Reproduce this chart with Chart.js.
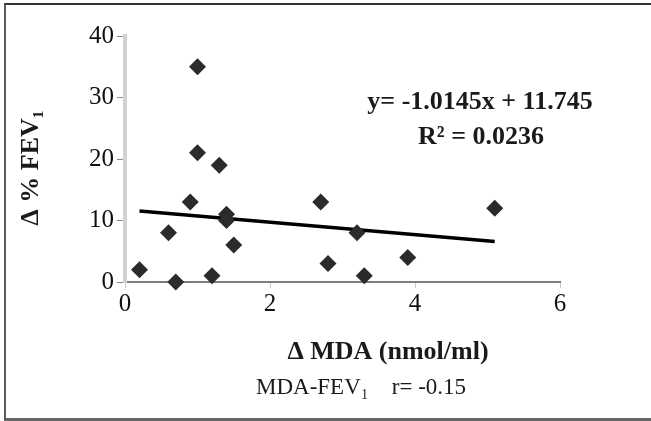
<!DOCTYPE html>
<html>
<head>
<meta charset="utf-8">
<script src="https://cdn.jsdelivr.net/npm/chart.js@4.4.1/dist/chart.umd.min.js"></script>
<style>
  html, body { margin: 0; padding: 0; background: #fff; }
  #wrap { position: relative; width: 651px; height: 421px; }
  #frame {
    position: absolute; left: 4px; top: 3px; width: 647px; height: 413px;
    border-left: 2px solid #5e5e5e; border-top: 2px solid #333; border-bottom: 3px solid #666;
  }
</style>
</head>
<body>
<div id="wrap">
  <canvas id="chart" width="651" height="421"></canvas>
  <div id="frame"></div>
</div>
<script>
// Δ MDA (nmol/ml) vs Δ % FEV1
const mdaValues = [0.2, 0.7, 0.6, 0.9, 1.0, 1.0, 1.3, 1.2, 1.4, 1.4, 1.5, 2.7, 2.8, 3.2, 3.3, 3.9, 5.1];
const fevValues = [2, 0, 8, 13, 35, 21, 19, 1, 11, 10, 6, 13, 3, 8, 1, 4, 12];

// trend line end points
const trendX = [0.2, 5.1];
const trendY = [11.55, 6.6];

const xTicks = [0, 2, 4, 6];
const yTicks = [0, 10, 20, 30, 40];

const equationText = 'y= -1.0145x + 11.745';
const r2Text = 'R² = 0.0236';
const xTitle = 'Δ MDA (nmol/ml)';
const yTitle = 'Δ % FEV₁';
const footerText = 'MDA-FEV₁    r= -0.15';

const serif = "'Liberation Serif', 'DejaVu Serif', serif";

const scatterPoints = mdaValues.map((x, i) => ({ x: x, y: fevValues[i] }));
const trendPoints = trendX.map((x, i) => ({ x: x, y: trendY[i] }));

// extra text drawn on the canvas
const textPlugin = {
  id: 'texts',
  afterDraw(chart) {
    const ctx = chart.ctx;
    const area = chart.chartArea;
    ctx.save();
    ctx.fillStyle = '#1a1a1a';
    ctx.textAlign = 'center';
    ctx.textBaseline = 'middle';
    ctx.font = 'bold 26px ' + serif;
    ctx.fillText(equationText, area.left + 355, area.top + 66);
    ctx.fillText(r2Text, area.left + 356, area.top + 101);
    ctx.fillText(xTitle, area.left + 263, area.bottom + 70);
    ctx.font = '23px ' + serif;
    ctx.fillText(footerText, area.left + 236, area.bottom + 106);
    // rotated y title
    ctx.translate(31, area.top + 132);
    ctx.rotate(-Math.PI / 2);
    ctx.font = 'bold 26px ' + serif;
    ctx.fillText(yTitle, 0, 0);
    ctx.restore();
  }
};

new Chart(document.getElementById('chart'), {
  type: 'scatter',
  data: {
    datasets: [
      {
        label: 'points',
        data: scatterPoints,
        pointStyle: 'rectRot',
        pointRadius: 8.5,
        pointHoverRadius: 8.5,
        backgroundColor: '#2b2b2b',
        borderColor: '#2b2b2b',
        borderWidth: 0,
        clip: false
      },
      {
        type: 'line',
        label: 'trend',
        data: trendPoints,
        borderColor: '#000',
        borderWidth: 3.5,
        pointRadius: 0,
        fill: false
      }
    ]
  },
  options: {
    responsive: false,
    animation: false,
    layout: { padding: { top: 36, right: 91, bottom: 0, left: 0 } },
    plugins: {
      legend: { display: false },
      tooltip: { enabled: false }
    },
    scales: {
      x: {
        type: 'linear',
        min: 0,
        max: 6,
        afterBuildTicks(scale) { scale.ticks = xTicks.map(v => ({ value: v })); },
        afterFit(scale) { scale.height = 139; },
        grid: { drawOnChartArea: false, drawTicks: true, tickLength: 6, color: '#c8c8c8' },
        border: { display: true, color: '#7d7d7d', width: 2 },
        ticks: { color: '#111', font: { family: serif, size: 25 }, padding: 1 }
      },
      y: {
        type: 'linear',
        min: 0,
        max: 40,
        afterBuildTicks(scale) { scale.ticks = yTicks.map(v => ({ value: v })); },
        afterFit(scale) { scale.width = 125; },
        grid: { drawOnChartArea: false, drawTicks: true, tickLength: 8, color: '#8a8a8a' },
        border: { display: true, color: '#d2d2d2', width: 4 },
        ticks: { color: '#111', font: { family: serif, size: 25 }, padding: 3 }
      }
    }
  },
  plugins: [textPlugin]
});
</script>
</body>
</html>
